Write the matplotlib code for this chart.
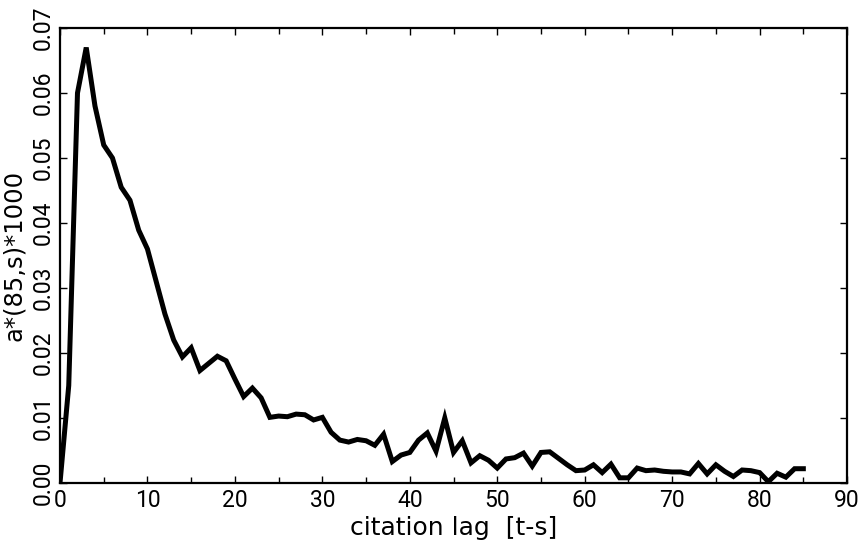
import matplotlib
matplotlib.use("Agg")
import matplotlib.pyplot as plt
from matplotlib.ticker import MultipleLocator

# lag (years) and a*(85,s)*1000
lag = list(range(0, 86))
a_vals = [
    0.0, 0.015, 0.060, 0.067, 0.058, 0.052, 0.050, 0.0455, 0.0435, 0.0389,
    0.036, 0.031, 0.026, 0.022, 0.0194, 0.0208, 0.0173, 0.0184, 0.0195, 0.0188,
    0.016, 0.0133, 0.0146, 0.0131, 0.0101, 0.0103, 0.0102, 0.0106, 0.0105, 0.0097,
    0.0101, 0.0078, 0.0066, 0.0063, 0.0067, 0.0065, 0.0058, 0.0075, 0.0033, 0.0043,
    0.0047, 0.0066, 0.0077, 0.0049, 0.0100, 0.0047, 0.0065, 0.0031, 0.0042, 0.0035,
    0.0023, 0.0037, 0.0039, 0.0046, 0.0026, 0.0047, 0.0048, 0.0038, 0.0028, 0.0019,
    0.0020, 0.0028, 0.0016, 0.0029, 0.0008, 0.0008, 0.0023, 0.0019, 0.0020, 0.0018,
    0.0017, 0.0017, 0.0014, 0.0030, 0.0014, 0.0028, 0.0018, 0.0010, 0.0020, 0.0019,
    0.0016, 0.0002, 0.0015, 0.0009, 0.0022, 0.0022,
]
x_ticks = [0, 10, 20, 30, 40, 50, 60, 70, 80, 90]
y_ticks = [0.00, 0.01, 0.02, 0.03, 0.04, 0.05, 0.06, 0.07]

fig = plt.figure(figsize=(8.67, 5.48), dpi=100)
ax = fig.add_axes([0.0692, 0.1186, 0.9078, 0.8303])

ax.plot(lag, a_vals, color="black", linewidth=3.6, solid_joinstyle="miter")

ax.set_xlim(0, 90)
ax.set_ylim(0, 0.07)
ax.set_xticks(x_ticks)
ax.xaxis.set_minor_locator(MultipleLocator(5))
ax.set_yticks(y_ticks)
ax.set_xticklabels([str(t) for t in x_ticks], family="Roboto", fontsize=16.5)
ax.set_yticklabels(["%.2f" % t for t in y_ticks], family="Roboto", fontsize=16.5,
                   rotation=90, va="center")

ax.tick_params(which="both", direction="in", top=True, right=True, width=1.0)
ax.tick_params(which="major", length=5, pad=4)
ax.tick_params(which="minor", length=4)
ax.tick_params(axis="x", which="minor", top=True)
for s in ax.spines.values():
    s.set_linewidth(1.6)

ax.set_xlabel("citation lag  [t-s]", fontsize=18, labelpad=3)
ax.set_ylabel("a*(85,s)*1000", fontsize=17.5, labelpad=4)

fig.savefig("out.png", dpi=100)
